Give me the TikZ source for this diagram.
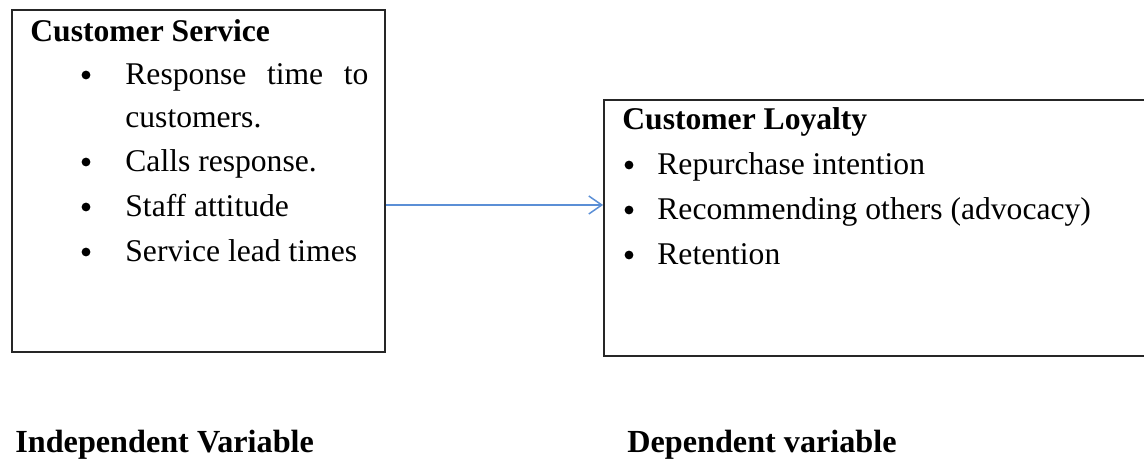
\documentclass[tikz,border=0pt]{standalone}
\usepackage{fontspec}
\setmainfont{Liberation Serif}
\usetikzlibrary{arrows.meta}
\definecolor{linkblue}{HTML}{5B8FD6}
\begin{document}
\begin{tikzpicture}[x=0.5pt,y=-0.5pt,
  box/.style={draw=black!85,line width=0.9pt,inner sep=0pt},
  txt/.style={inner sep=0pt,anchor=base west,font=\fontsize{15.8}{18}\selectfont},
  lbl/.style={inner sep=0pt,anchor=base west,font=\fontsize{16.1}{18}\selectfont\bfseries},
  dot/.style={circle,fill=black,inner sep=0pt,minimum size=4.4pt}]
  \clip (0,0) rectangle (1144,464);

  % the two boxes
  \node[box,minimum width=186.5pt,minimum height=171pt] (cs) at (198.5,181) {};
  \node[box,minimum width=280pt,minimum height=128pt] (cl) at (884,228) {};

  % independent variable
  \node[txt] (cstitle) at (30,42) {\bfseries Customer Service};
  \node[dot] (csb1) at (86,75) {};
  \node[txt] (cs1) at (125,85) {\hbox to 121.5pt{Response\hfill time\hfill to}};
  \node[txt] (cs1b) at (125,128) {customers.};
  \node[dot] (csb2) at (86,162) {};
  \node[txt] (cs2) at (125,172) {Calls response.};
  \node[dot] (csb3) at (86,207) {};
  \node[txt] (cs3) at (125,217) {Staff attitude};
  \node[dot] (csb4) at (86,252) {};
  \node[txt] (cs4) at (125,262) {Service lead times};

  % dependent variable
  \node[txt] (cltitle) at (622,130) {\bfseries Customer Loyalty};
  \node[dot] (clb1) at (629,165) {};
  \node[txt] (cl1) at (657,175) {Repurchase intention};
  \node[dot] (clb2) at (629,210) {};
  \node[txt] (cl2) at (657,220) {Recommending others (advocacy)};
  \node[dot] (clb3) at (629,255) {};
  \node[txt] (cl3) at (657,265) {Retention};

  % link
  \coordinate (lk) at (0,205);
  \draw[linkblue,line width=0.75pt,-{Straight Barb[length=6.5pt,width=9pt]}]
    (cs.east |- lk) -- (cl.west |- lk);

  \node[lbl] (iv) at (15,452) {Independent Variable};
  \node[lbl] (dv) at (627,452) {Dependent variable};
\end{tikzpicture}
\end{document}
